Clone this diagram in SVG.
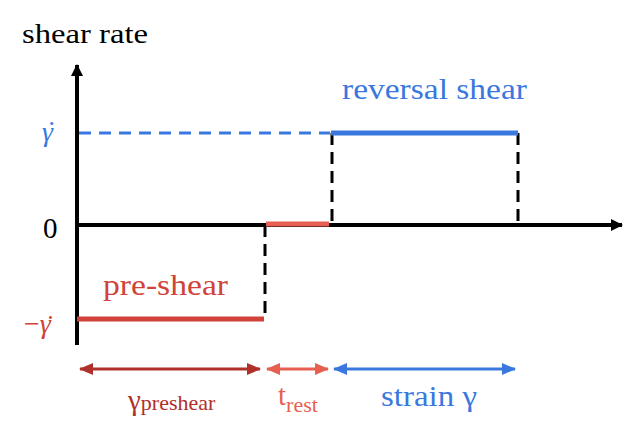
<svg xmlns="http://www.w3.org/2000/svg" width="639" height="434" viewBox="0 0 639 434">
<defs>
<marker id="ah" markerUnits="userSpaceOnUse" markerWidth="12" markerHeight="12" refX="11" refY="6" orient="auto"><path d="M0,0 L12,6 L0,12 Z" fill="#000"/></marker>
<marker id="dr" markerUnits="userSpaceOnUse" markerWidth="14" markerHeight="14" refX="13" refY="7" orient="auto-start-reverse"><path d="M0,1 L14,7 L0,13 Z" fill="#b0302a"/></marker>
<marker id="sa" markerUnits="userSpaceOnUse" markerWidth="14" markerHeight="14" refX="13" refY="7" orient="auto-start-reverse"><path d="M0,1 L14,7 L0,13 Z" fill="#e65f50"/></marker>
<marker id="bl" markerUnits="userSpaceOnUse" markerWidth="14" markerHeight="14" refX="13" refY="7" orient="auto-start-reverse"><path d="M0,1 L14,7 L0,13 Z" fill="#3a78df"/></marker>
</defs>
<g id="connectors" fill="none">
<line x1="79" y1="133" x2="330" y2="133" stroke="#3a78df" stroke-width="3" stroke-dasharray="12 8"/>
<g stroke="#000" stroke-width="3" stroke-dasharray="12 7">
<line x1="265" y1="225" x2="265" y2="320"/>
<line x1="332" y1="133" x2="332" y2="225"/>
<line x1="518" y1="133" x2="518" y2="228"/>
</g>
<g stroke="#000" stroke-width="4">
<line x1="77" y1="345" x2="77" y2="65" marker-end="url(#ah)"/>
<line x1="75" y1="225" x2="622" y2="225" marker-end="url(#ah)"/>
</g>
<g stroke-width="5">
<line x1="77" y1="319" x2="264" y2="319" stroke="#cf4339"/>
<line x1="266" y1="224" x2="329" y2="224" stroke="#e65f50"/>
<line x1="331" y1="133" x2="518" y2="133" stroke="#3a78df"/>
</g>
<g stroke-width="3">
<line x1="80" y1="369" x2="260" y2="369" stroke="#b0302a" marker-start="url(#dr)" marker-end="url(#dr)"/>
<line x1="267" y1="369" x2="328" y2="369" stroke="#e65f50" marker-start="url(#sa)" marker-end="url(#sa)"/>
<line x1="334" y1="369" x2="515" y2="369" stroke="#3a78df" marker-start="url(#bl)" marker-end="url(#bl)"/>
</g>
</g>
<g font-family="Liberation Serif, Times New Roman, serif" font-size="29">
<g id="axis-labels">
<text x="22" y="43" font-size="28" textLength="126" lengthAdjust="spacingAndGlyphs">shear rate</text>
<text x="43" y="238">0</text>
<text fill="#3a78df" x="42" y="141" font-size="28" font-style="italic">&#947;<tspan font-style="normal" dx="-6" dy="-1">&#729;</tspan></text>
<text fill="#cf4339" x="24" y="333" font-size="28" font-style="italic"><tspan font-style="normal">&#8722;</tspan>&#947;<tspan font-style="normal" dx="-5" dy="1">&#729;</tspan></text>
</g>
<g id="pre-shear"><text fill="#cf4339" x="103" y="295" textLength="125" lengthAdjust="spacingAndGlyphs">pre-shear</text></g>
<g id="reversal-shear"><text fill="#3a78df" x="342" y="99" textLength="185" lengthAdjust="spacingAndGlyphs">reversal shear</text></g>
<g id="gamma-preshear"><text fill="#b0302a" x="128" y="410">&#947;<tspan font-size="22">preshear</tspan></text></g>
<g id="t-rest"><text fill="#e65f50" x="278" y="405">t<tspan font-size="22" dy="7">rest</tspan></text></g>
<g id="strain"><text fill="#3a78df" x="381" y="406" textLength="96" lengthAdjust="spacingAndGlyphs">strain &#947;</text></g>
</g>
</svg>
